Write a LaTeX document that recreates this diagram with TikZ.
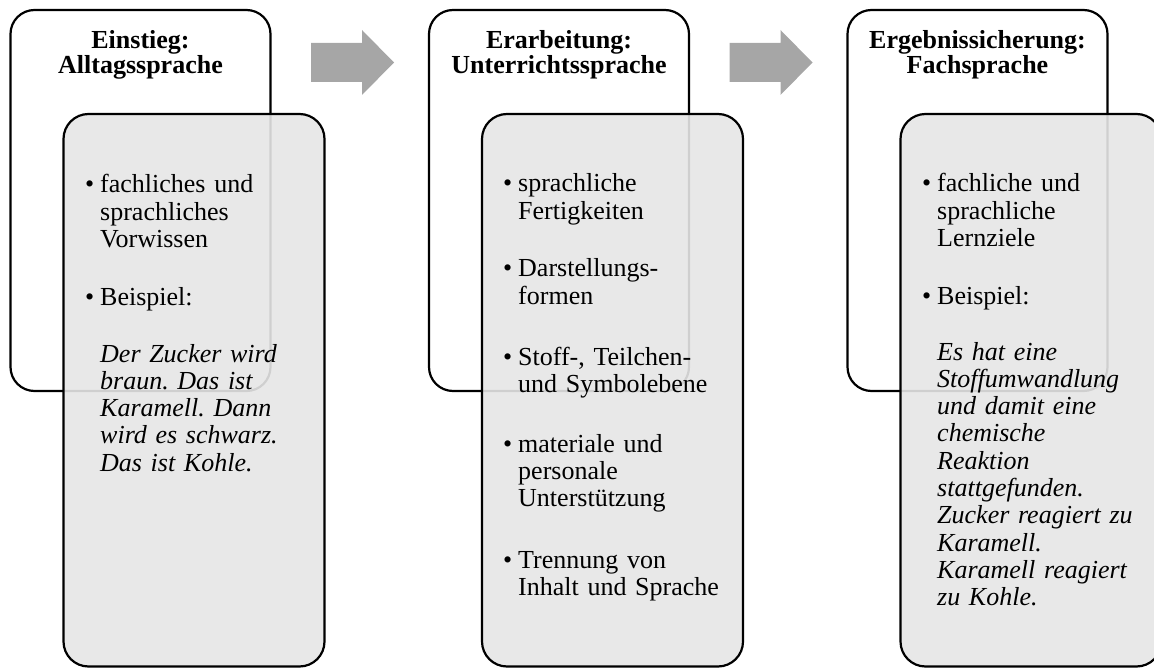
\documentclass[tikz,border=0pt]{standalone}
\usepackage{fontspec}
\setmainfont{Liberation Serif}
\frenchspacing
\definecolor{boxgray}{HTML}{E6E6E6}
\definecolor{arrowgray}{HTML}{A6A6A6}
\newcommand{\itembullet}{\llap{•\hspace{6pt}}}
\begin{document}
\begin{tikzpicture}[x=1pt,y=-1pt,
  phasebox/.style={draw=black, line width=2.2pt, fill=white, rounded corners=24pt,
    minimum width=260pt, minimum height=381pt, inner sep=0pt},
  detailbox/.style={draw=black, line width=2.2pt, fill=boxgray, fill opacity=0.9,
    draw opacity=1, rounded corners=25pt, minimum width=261pt, minimum height=552.5pt, inner sep=0pt},
  phasetitle/.style={font=\bfseries\fontsize{26pt}{24.5pt}\selectfont, align=center,
    text width=250pt, inner sep=0pt, anchor=base},
  itemtext/.style={font=\fontsize{26pt}{27.3pt}\selectfont, align=left,
    text width=240pt, inner sep=0pt, anchor=base west},
  exampletext/.style={itemtext, font=\itshape\fontsize{26pt}{27.3pt}\selectfont},
  steparrow/.style={fill=arrowgray, draw=none}
]
\useasboundingbox (0,0) rectangle (1154,668);
\clip (0,0) rectangle (1154,668);

% phase boxes (headers)
\node[phasebox] (head1) at (140.5,200.5) {};
\node[phasebox] (head2) at (559,200.5) {};
\node[phasebox] (head3) at (977.5,200.5) {};

% detail boxes, drawn half-transparent over the phase boxes
\node[detailbox] (body1) at (194,390.25) {};
\node[detailbox] (body2) at (612.5,390.25) {};
\node[detailbox] (body3) at (1031,390.25) {};

% block arrows between the phases
\fill[steparrow] (311,43) -- (362,43) -- (362,30) -- (394,62.5) -- (362,95) -- (362,82) -- (311,82) -- cycle;
\fill[steparrow] (729.5,43) -- (780.5,43) -- (780.5,30) -- (812.5,62.5) -- (780.5,95) -- (780.5,82) -- (729.5,82) -- cycle;

% titles
\node[phasetitle] (title1) at (140.5,49) {Einstieg:\\Alltagssprache};
\node[phasetitle] (title2) at (559,49) {Erarbeitung:\\Unterrichtssprache};
\node[phasetitle] (title3) at (977.5,49) {Ergebnissicherung:\\Fachsprache};

% phase 1
\node[itemtext] (p1a) at (100,193) {\itembullet fachliches und\\sprachliches\\Vorwissen};
\node[itemtext] (p1b) at (100,306) {\itembullet Beispiel:};
\node[exampletext] (p1c) at (100,362) {Der Zucker wird\\braun. Das ist\\Karamell. Dann\\wird es schwarz.\\Das ist Kohle.};

% phase 2
\node[itemtext] (p2a) at (518,192) {\itembullet sprachliche\\Fertigkeiten};
\node[itemtext] (p2b) at (518,277) {\itembullet Darstellungs-\\formen};
\node[itemtext] (p2c) at (518,365) {\itembullet Stoff-, Teilchen-\\und Symbolebene};
\node[itemtext] (p2d) at (518,452) {\itembullet materiale und\\personale\\Unterstützung};
\node[itemtext] (p2e) at (518,568) {\itembullet Trennung von\\Inhalt und Sprache};

% phase 3
\node[itemtext] (p3a) at (937,192) {\itembullet fachliche und\\sprachliche\\Lernziele};
\node[itemtext] (p3b) at (937,305) {\itembullet Beispiel:};
\node[exampletext] (p3c) at (937,360) {Es hat eine\\Stoffumwandlung\\und damit eine\\chemische\\Reaktion\\stattgefunden.\\Zucker reagiert zu\\Karamell.\\Karamell reagiert\\zu Kohle.};
\end{tikzpicture}
\end{document}
